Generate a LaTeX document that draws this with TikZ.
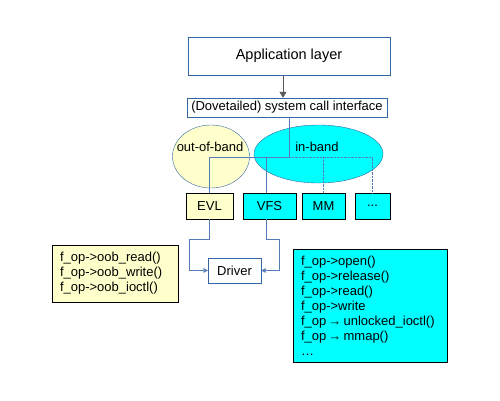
\documentclass[tikz,border=0pt]{standalone}
\usepackage{fontspec}
\setmainfont{Liberation Sans}
\usetikzlibrary{arrows.meta,shadows,shapes.geometric}
\definecolor{boxblue}{RGB}{52,101,164}
\definecolor{linkblue}{RGB}{84,124,184}
\definecolor{paleyellow}{RGB}{255,255,204}
\definecolor{aqua}{RGB}{0,255,255}
\begin{document}
\begin{tikzpicture}[x=1pt,y=-1pt,
    every node/.style={font=\fontsize{13}{15}\selectfont},
    layer box/.style={draw=boxblue,fill=white,inner sep=0pt},
    part box/.style={draw=black,inner sep=0pt,minimum height=26pt,
        drop shadow={shadow xshift=1pt,shadow yshift=-1pt,fill=gray,opacity=0.6}},
    ops box/.style={draw=black,inner xsep=8pt,inner ysep=0pt,align=left,
        drop shadow={shadow xshift=1pt,shadow yshift=-1pt,fill=gray,opacity=0.6}},
    band/.style={ellipse,draw=boxblue,inner sep=0pt},
    link/.style={draw=linkblue,thin},
    tip/.style={-{Triangle[width=4.5pt,length=4.5pt]}}]
                \useasboundingbox (0,0) rectangle (500,400);
                \node[layer box,minimum width=202pt,minimum height=38pt,font=\fontsize{14.5}{16}\selectfont] at (289, 56) (app) {Application layer};
                \node[layer box,minimum width=200pt,minimum height=19pt] at (287, 107.5) (sci) {(Dovetailed) system call interface};
                \node[band,fill=paleyellow,minimum width=77pt,minimum height=63pt] at (211, 156.5) (oob) {};
                \node[band,fill=aqua,minimum width=129pt,minimum height=58pt] at (318.5, 154) (inb) {};
                \node at (210, 147) (oobtext) {out-of-band};
                \node at (317, 147) (inbtext) {in-band};
                \node[part box,fill=paleyellow,minimum width=47pt] at (209.5, 206) (evl) {EVL};
                \node[part box,fill=aqua,minimum width=53pt] at (269.5, 206) (vfs) {VFS};
                \node[part box,fill=aqua,minimum width=43pt] at (323.5, 206) (mm) {MM};
                \node[part box,fill=aqua,minimum width=35pt] at (372.5, 206) (dots) {...};
                \node[layer box,minimum width=53pt,minimum height=25pt] at (234.5, 270.5) (drv) {Driver};
                \node[ops box,fill=paleyellow,text width=110pt,minimum height=57pt] at (115, 273.5) (oobops)
                    {f\_op->oob\_read()\\f\_op->oob\_write()\\f\_op->oob\_ioctl()};
                \node[ops box,fill=aqua,text width=138pt,minimum height=113pt] at (370, 305.5) (inbops)
                    {f\_op->open()\\f\_op->release()\\f\_op->read()\\f\_op->write\\f\_op\,→\,unlocked\_ioctl()\\f\_op\,→\,mmap()\\…};
                \coordinate (hub) at (289, 157);
                \coordinate (vfstap) at (266, 157);
                \coordinate (lft) at (189, 239);
                \coordinate (rgt) at (279, 239);

                \draw[-{Triangle[width=7pt,length=6pt]},gray!70!black] ([xshift=-6pt]app.south) -- ([xshift=-6pt]app.south |- sci.north);
                \path[link] (sci.south -| hub) -- (hub) -- (hub -| evl) -- (evl.north);
                \path[link] (vfstap) -- (vfstap |- vfs.north);
                \path[link,densely dotted] (hub) -- (hub -| dots) -- (dots.north)
                    (hub -| mm) -- (mm.north);
                \path[link,tip] (evl.south) -- (evl.south |- lft) -- (lft) |- (drv.west);
                \path[link,tip] (vfs.south -| vfstap) -- (vfstap |- rgt) -- (rgt) |- (drv.east);
            \end{tikzpicture}
\end{document}
